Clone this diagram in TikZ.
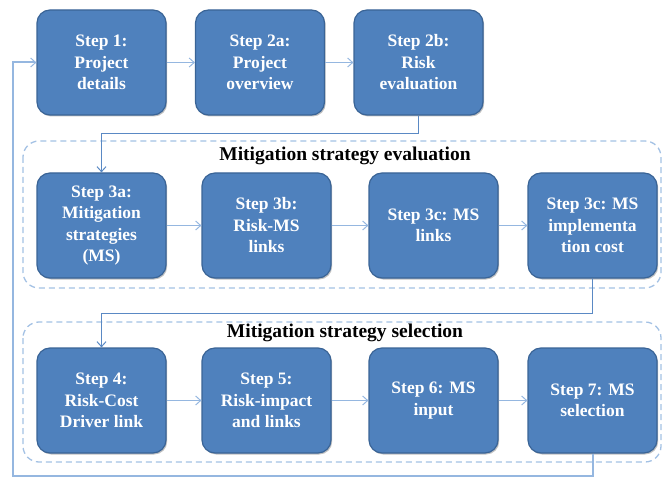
\documentclass[tikz,border=0pt]{standalone}
\usepackage{fontspec}
\setmainfont{Liberation Serif}
\usetikzlibrary{arrows.meta,shadows}

\definecolor{boxfill}{HTML}{4F81BD}
\definecolor{boxline}{HTML}{3A6496}
\definecolor{flowlight}{HTML}{95B7E0}
\definecolor{flowdark}{HTML}{5A89C4}
\definecolor{framecol}{HTML}{A3C1E4}

\tikzset{
  stepbox/.style={draw=boxline, line width=1.2pt, fill=boxfill, rounded corners=13pt,
    minimum width=129pt, minimum height=105pt, inner sep=2pt, align=center,
    text=white, font=\bfseries\fontsize{17.5}{21.5}\selectfont,
    drop shadow={shadow xshift=1.2pt, shadow yshift=-1.5pt, opacity=0.35, fill=black!70}},
  phase/.style={draw=framecol, line width=1.3pt, dash pattern=on 6pt off 4pt, rounded corners=16pt},
  phasetitle/.style={font=\bfseries\fontsize{19.5}{22}\selectfont, text=black},
  tip/.style={-{Straight Barb[length=5pt,width=9pt,line width=1pt]}},
  flow/.style={tip, draw=flowlight, line width=1.8pt},
  drop/.style={tip, draw=flowdark, line width=1.3pt},
  loopback/.style={tip, draw=flowlight, line width=2pt}
}

\begin{document}
\begin{tikzpicture}[x=1pt, y=-1pt]
  \useasboundingbox (0,0) rectangle (663,478);

  % dashed phase frames
  \draw[phase] (23,141) rectangle (661,288);
  \draw[phase] (23,322) rectangle (661,462);
  \node[phasetitle] (t1) at (345,156) {Mitigation strategy evaluation};
  \node[phasetitle] (t2) at (345,333) {Mitigation strategy selection};

  % first row
  \node[stepbox] (s1)  at (101.5,62.5) {Step 1:\\Project\\details};
  \node[stepbox] (s2a) at (260,62.5)   {Step 2a:\\Project\\overview};
  \node[stepbox] (s2b) at (418.5,62.5) {Step 2b:\\Risk\\evaluation};

  % evaluation row
  \node[stepbox] (s3a) at (101.5,225.5) {Step 3a:\\Mitigation\\strategies\\(MS)};
  \node[stepbox] (s3b) at (266.5,225.5) {Step 3b:\\Risk-MS\\links};
  \node[stepbox] (s3c) at (433.5,225.5) {Step 3c: MS\\links};
  \node[stepbox] (s3d) at (592.5,225.5) {Step 3c: MS\\implementa\\tion cost};

  % selection row
  \node[stepbox] (s4) at (101.5,400.5) {Step 4:\\Risk-Cost\\Driver link};
  \node[stepbox] (s5) at (266.5,400.5) {Step 5:\\Risk-impact\\and links};
  \node[stepbox] (s6) at (433.5,400.5) {Step 6: MS\\input};
  \node[stepbox] (s7) at (592.5,400.5) {Step 7: MS\\selection};

  % horizontal flow
  \draw[flow] (s1) -- (s2a);
  \draw[flow] (s2a) -- (s2b);
  \draw[flow] (s3a) -- (s3b);
  \draw[flow] (s3b) -- (s3c);
  \draw[flow] (s3c) -- (s3d);
  \draw[flow] (s4) -- (s5);
  \draw[flow] (s5) -- (s6);
  \draw[flow] (s6) -- (s7);

  % row-to-row connectors
  \draw[drop] (s2b.south) -- ++(0,18) -| (s3a.north);
  \draw[drop] (s3d.south) -- ++(0,35) -| (s4.north);

  % return loop to the start
  \coordinate (low) at (592.5,476);
  \coordinate (side) at (13,476);
  \draw[loopback] (s7.south) -- (low) -- (side) |- (s1.west);
\end{tikzpicture}
\end{document}
